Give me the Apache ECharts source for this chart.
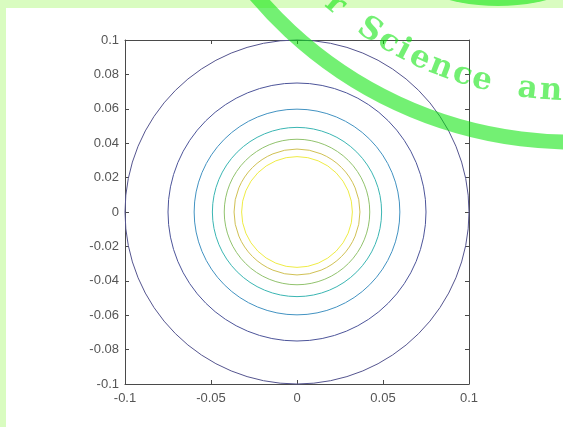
<!DOCTYPE html>
<html>
<head>
<meta charset="utf-8">
<script src="https://cdn.jsdelivr.net/npm/echarts@6/dist/echarts.min.js"></script>
<style>
html,body{margin:0;padding:0;background:#d9fcc0;}
#chart{width:563px;height:427px;}
</style>
</head>
<body>
<div id="chart"></div>
<script>
// ---- data ----
const xTickLabels = ['-0.1', '-0.05', '0', '0.05', '0.1'];
const yTickLabels = ['-0.1', '-0.08', '-0.06', '-0.04', '-0.02', '0', '0.02', '0.04', '0.06', '0.08', '0.1'];
const contourCenterX = [0, 0, 0, 0, 0, 0, 0];
const contourCenterY = [0, 0, 0, 0, 0, 0, 0];
const contourRadii = [0.1, 0.075, 0.0598, 0.0492, 0.0423, 0.0366, 0.0322];

// ---- styles ----
const contourColors = ['#55558f', '#4d559a', '#4393c2', '#3bb6b3', '#92c36e', '#d0c154', '#efec45'];
const axisColor = '#4a4a4a';
const labelColor = '#555555';
const wmColor = 'rgba(0,228,0,0.55)';

const chart = echarts.init(document.getElementById('chart'), null, {renderer: 'canvas'});

const xMin = -0.1, xMax = 0.1, xStep = 0.05;
const yMin = -0.1, yMax = 0.1, yStep = 0.02;

function axisCommon(extra) {
  return Object.assign({
    type: 'value',
    splitLine: {show: false},
    axisLine: {show: true, onZero: false, lineStyle: {color: axisColor, width: 1}},
    axisTick: {show: true, inside: true, length: 4, lineStyle: {color: axisColor}},
  }, extra);
}

// watermark characters along an arc (decoration)
const wmCx = 572, wmCy = -272, wmTextR = 364;
const wmChars = [['r', 130.6], ['S', 123.8], ['c', 120.3], ['i', 117.6], ['e', 114.7], ['n', 111.1], ['c', 107.5], ['e', 104.3], ['a', 97.0], ['n', 93.3]];
const wmGraphics = wmChars.map(function (c) {
  const a = c[1] * Math.PI / 180;
  return {
    type: 'text',
    x: wmCx + wmTextR * Math.cos(a),
    y: wmCy + wmTextR * Math.sin(a),
    rotation: (90 - c[1]) * Math.PI / 180,
    z: 100,
    style: {text: c[0], x: 0, y: 0, align: 'center', verticalAlign: 'middle',
            font: 'bold 31px "DejaVu Serif"', fill: wmColor}
  };
});

const option = {
  backgroundColor: '#d9fcc0',
  animation: false,
  grid: {left: 125, top: 40, width: 344, height: 344, show: false},
  xAxis: [
    axisCommon({min: xMin, max: xMax, interval: xStep, position: 'bottom',
      axisLabel: {show: true, margin: 8, color: labelColor, fontSize: 13, fontFamily: 'Liberation Sans',
        formatter: function (v) { return xTickLabels[Math.round((v - xMin) / xStep)]; }}}),
    axisCommon({min: xMin, max: xMax, interval: xStep, position: 'top', axisLabel: {show: false}})
  ],
  yAxis: [
    axisCommon({min: yMin, max: yMax, interval: yStep, position: 'left',
      axisLabel: {show: true, margin: 6, color: labelColor, fontSize: 13, fontFamily: 'Liberation Sans',
        formatter: function (v) { return yTickLabels[Math.round((v - yMin) / yStep)]; }}}),
    axisCommon({min: yMin, max: yMax, interval: yStep, position: 'right', axisLabel: {show: false}})
  ],
  series: [{
    type: 'custom',
    xAxisIndex: 0,
    yAxisIndex: 0,
    clip: false,
    silent: true,
    data: contourRadii.map(function (r, i) { return [contourCenterX[i], contourCenterY[i], r, i]; }),
    encode: {x: 0, y: 1},
    renderItem: function (params, api) {
      const c = api.coord([api.value(0), api.value(1)]);
      const s = api.size([api.value(2), api.value(2)]);
      return {
        type: 'circle',
        shape: {cx: c[0], cy: c[1], r: s[0]},
        style: {fill: 'none', stroke: contourColors[api.value(3)], lineWidth: 1}
      };
    }
  }],
  graphic: [
    {type: 'rect', z: -10, shape: {x: 6, y: 8, width: 557, height: 419}, style: {fill: '#ffffff'}},
    {type: 'arc', z: 100, shape: {cx: wmCx, cy: wmCy, r: 414, startAngle: 80 * Math.PI / 180, endAngle: 150 * Math.PI / 180, clockwise: true},
     style: {stroke: wmColor, lineWidth: 15, fill: 'none'}},
    {type: 'circle', z: 100, shape: {cx: 498, cy: -193, r: 199}, style: {fill: wmColor}}
  ].concat(wmGraphics)
};

chart.setOption(option);
</script>
</body>
</html>
